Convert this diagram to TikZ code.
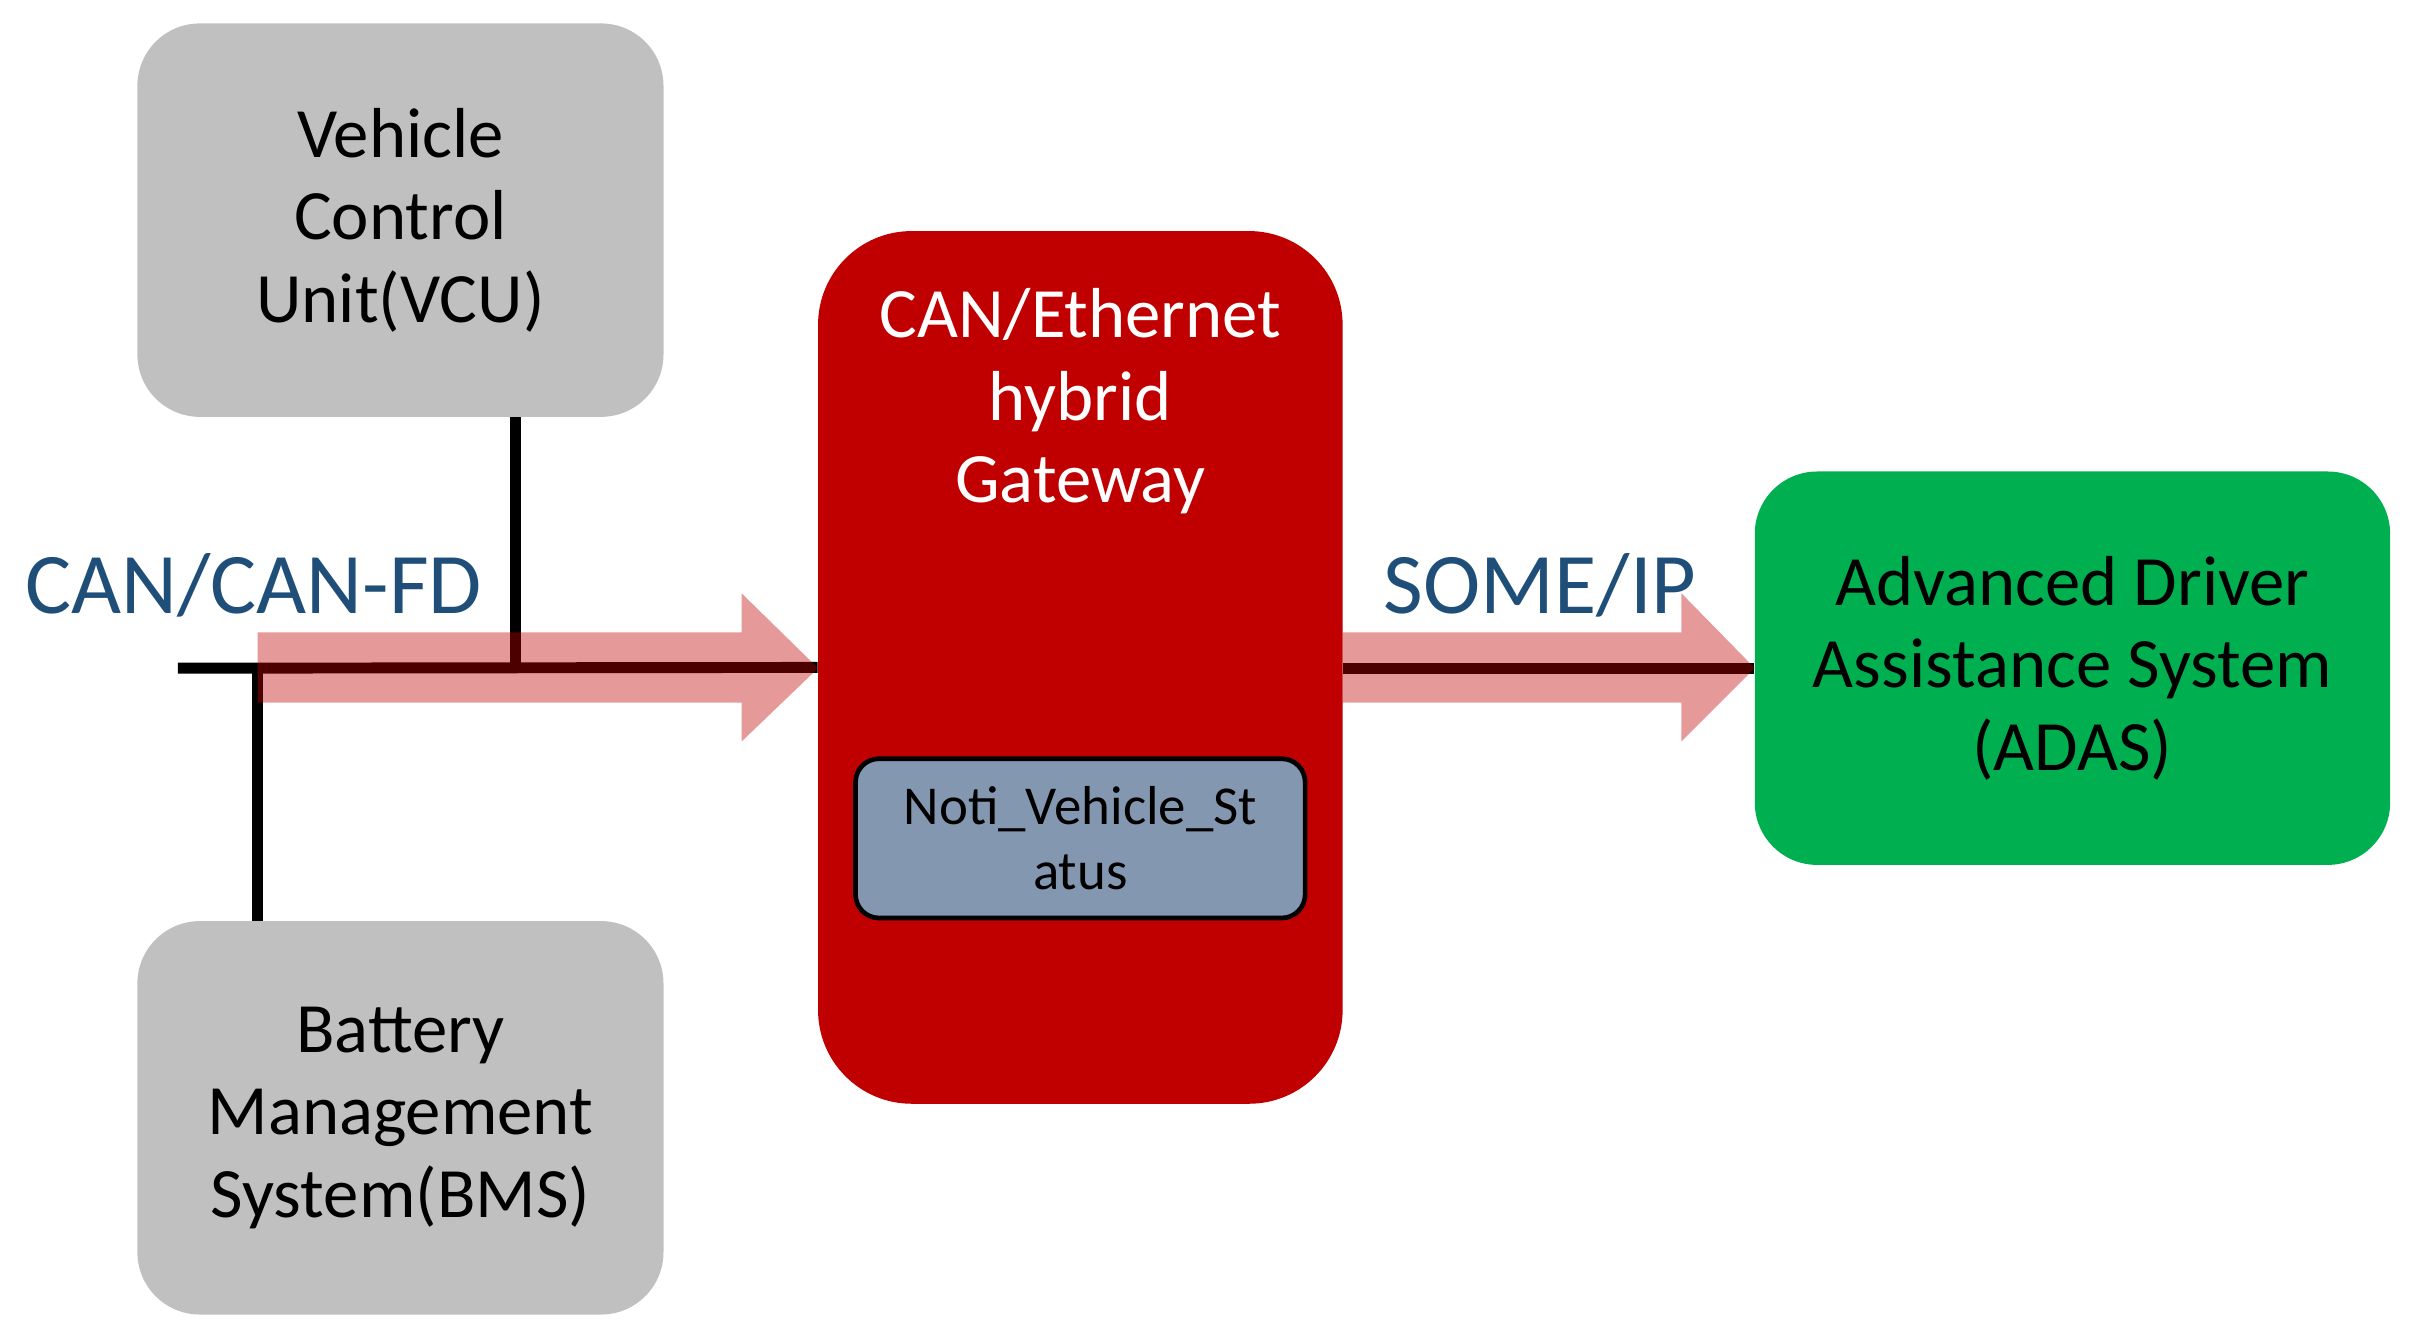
\documentclass[tikz,border=0pt]{standalone}
\usepackage{fontspec}
\setmainfont{Carlito}
\begin{document}
\begin{tikzpicture}[x=0.02cm,y=-0.02cm,
  box/.style={draw=none,rounded corners=0.8cm,align=center,font=\fontsize{25.8}{30}\selectfont,inner sep=0pt},
  bus/.style={line width=7*0.02cm,black},
  flow/.style={fill={rgb,255:red,192;green,0;blue,0},fill opacity=0.4,draw=none},
  lbl/.style={text={rgb,255:red,31;green,78;blue,121},font=\fontsize{31.5}{34}\selectfont,inner sep=0pt}]
\useasboundingbox (0,0) rectangle (1545,850);
\definecolor{gw}{HTML}{C00000}
\definecolor{gr}{HTML}{C0C0C0}
\definecolor{ad}{HTML}{00B050}
\definecolor{nb}{HTML}{8497B0}
\node[box,fill=gr,minimum width=337*0.02cm,minimum height=252*0.02cm] (vcu) at (256.5,141) {Vehicle\\Control\\Unit(VCU)};
\node[box,fill=gr,minimum width=337*0.02cm,minimum height=252*0.02cm] (bms) at (256.5,716) {Battery\\Management\\System(BMS)};
\node[box,fill=gw,rounded corners=1.2cm,minimum width=336*0.02cm,minimum height=559*0.02cm] (gw) at (692,427.5) {};
\node[align=center,text=white,font=\fontsize{25.8}{30}\selectfont] (gwt) at (692,257) {CAN/Ethernet\\hybrid\\Gateway};
\node[draw=black,line width=0.06cm,fill=nb,rounded corners=0.3cm,minimum width=288*0.02cm,minimum height=102*0.02cm,align=center,font=\fontsize{20}{23.5}\selectfont,inner sep=0pt] (noti) at (692,537) {Noti\_Vehicle\_St\\atus};
\node[box,fill=ad,minimum width=407*0.02cm,minimum height=252*0.02cm] (adas) at (1327.5,428) {Advanced Driver\\Assistance System\\(ADAS)};
\coordinate (l) at (114,428);
\coordinate (j) at (165,428);
\coordinate (k) at (330,428);
\draw[bus] (l) -- (gw.west);
\draw[bus] (vcu.south -| k) -- (k);
\draw[bus] (j) -- (bms.north -| j);
\draw[bus] (gw.east |- 0,428) -- (adas.west);
\fill[flow] (165,405) -- (475,405) -- (475,380) -- (524,428) -- (475,475) -- (475,450) -- (165,450) -- cycle;
\fill[flow] (860,405) -- (1077,405) -- (1077,380) -- (1124,428) -- (1077,475) -- (1077,450) -- (860,450) -- cycle;
\node[lbl,anchor=west] (can) at (16,375) {CAN/CAN-FD};
\node[lbl,anchor=west] (some) at (886,375) {SOME/IP};
\end{tikzpicture}
\end{document}
